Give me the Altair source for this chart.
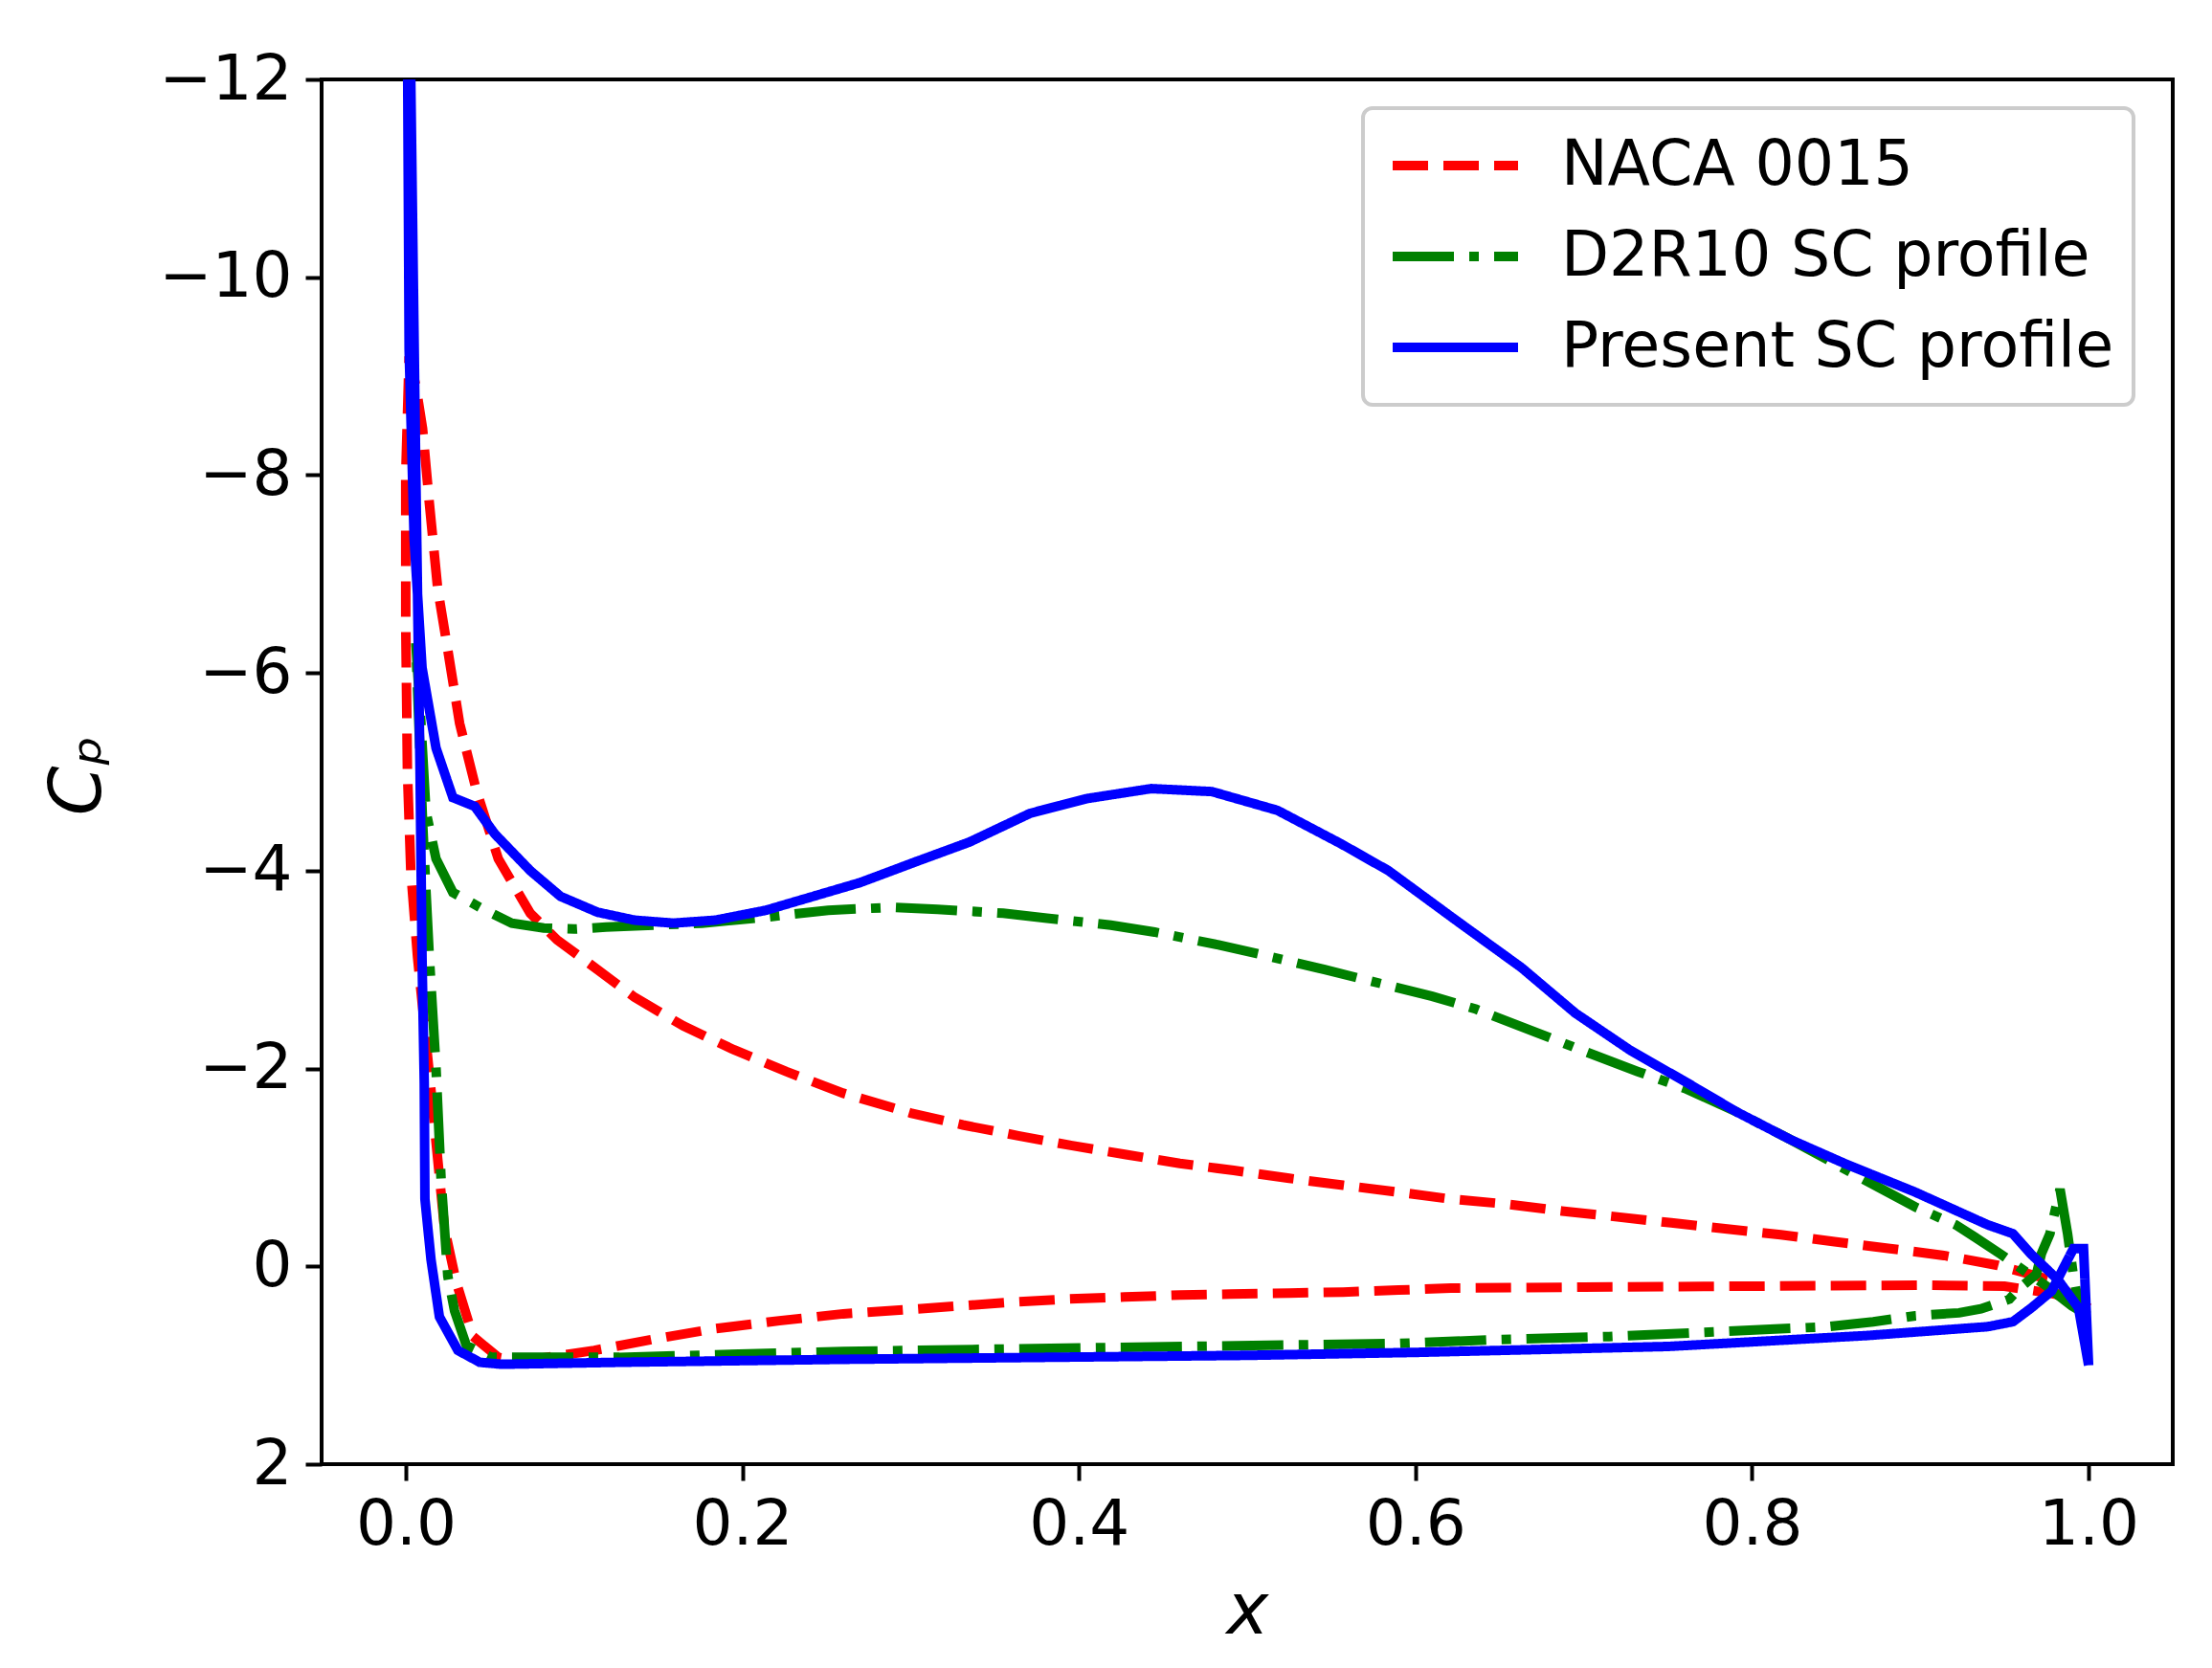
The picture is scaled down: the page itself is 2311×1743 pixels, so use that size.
import altair as alt
import pandas as pd

names = ["NACA 0015", "D2R10 SC profile", "Present SC profile"]
colors = ["#ff0000", "#008000", "#0000ff"]
dashes = [[37, 16], [64, 16, 10, 16], [1, 0]]

# NACA 0015 (leading edge -> trailing edge)
naca_up_x = [0.002, 0.006, 0.010, 0.014, 0.019, 0.025, 0.032, 0.042, 0.055, 0.074, 0.090, 0.106,
             0.136, 0.165, 0.195, 0.226, 0.260, 0.300, 0.331, 0.364, 0.396, 0.428, 0.460, 0.492,
             0.525, 0.557, 0.590, 0.621, 0.654, 0.687, 0.720, 0.752, 0.784, 0.817, 0.849, 0.882,
             0.914, 0.946, 0.978, 1.0]
naca_up_cp = [-9.2, -8.9, -8.47, -7.72, -6.85, -6.23, -5.49, -4.81, -4.12, -3.57, -3.3, -3.10,
              -2.72, -2.43, -2.19, -1.97, -1.75, -1.55, -1.43, -1.32, -1.22, -1.13, -1.04, -0.97,
              -0.89, -0.82, -0.75, -0.68, -0.63, -0.56, -0.50, -0.44, -0.38, -0.32, -0.25, -0.18,
              -0.11, -0.01, 0.14, 0.42]
naca_lo_x = [0.002, 0.0, 0.0, 0.001, 0.003, 0.007, 0.015, 0.023, 0.030, 0.040, 0.055, 0.068,
             0.112, 0.146, 0.184, 0.222, 0.260, 0.296, 0.329, 0.362, 0.394, 0.427, 0.46, 0.49,
             0.525, 0.557, 0.59, 0.621, 0.7, 0.8, 0.9, 0.95, 0.98, 1.0]
naca_lo_cp = [-9.2, -8.0, -6.5, -5.0, -4.0, -3.13, -1.78, -0.39, 0.16, 0.71, 0.92, 0.96,
              0.85, 0.74, 0.63, 0.55, 0.48, 0.44, 0.40, 0.36, 0.33, 0.31, 0.29, 0.28,
              0.27, 0.26, 0.24, 0.22, 0.21, 0.20, 0.19, 0.20, 0.28, 0.42]

# D2R10 SC profile
d2_up_x = [0.006, 0.009, 0.012, 0.018, 0.028, 0.044, 0.063, 0.082, 0.10, 0.119, 0.176, 0.214,
           0.251, 0.289, 0.316, 0.355, 0.381, 0.419, 0.445, 0.483, 0.509, 0.546, 0.572, 0.610,
           0.636, 0.671, 0.698, 0.732, 0.76, 0.791, 0.823, 0.863, 0.897, 0.921, 0.932, 0.948,
           0.963, 0.975, 0.99, 1.0]
d2_up_cp = [-6.3, -5.5, -4.6, -4.12, -3.78, -3.63, -3.47, -3.42, -3.41, -3.43, -3.47, -3.53,
            -3.60, -3.63, -3.61, -3.57, -3.52, -3.45, -3.38, -3.25, -3.15, -3.0, -2.89, -2.73,
            -2.60, -2.37, -2.19, -1.97, -1.80, -1.56, -1.28, -0.91, -0.60, -0.42, -0.30, -0.12,
            0.06, 0.2, 0.4, 0.5]
d2_lo_x = [0.006, 0.010, 0.012, 0.014, 0.018, 0.021, 0.025, 0.029, 0.036, 0.051, 0.127, 0.26,
           0.42, 0.59, 0.65, 0.715, 0.78, 0.845, 0.872, 0.897, 0.923, 0.936, 0.953, 0.959,
           0.969, 0.972, 0.977, 0.983, 0.9875, 0.991, 0.995, 1.0]
d2_lo_cp = [-6.3, -4.5, -3.8, -3.13, -2.0, -0.88, 0.1, 0.45, 0.80, 0.92, 0.92, 0.86,
            0.82, 0.78, 0.74, 0.71, 0.66, 0.61, 0.56, 0.50, 0.47, 0.43, 0.33, 0.22,
            0.08, -0.13, -0.33, -0.78, -0.33, 0.10, 0.45, 0.5]

# Present SC profile
sc_up_x = [0.0, 0.001, 0.002, 0.005, 0.0097, 0.018, 0.028, 0.041, 0.053, 0.074, 0.092, 0.114,
           0.136, 0.159, 0.184, 0.214, 0.248, 0.270, 0.303, 0.335, 0.371, 0.405, 0.443, 0.479,
           0.518, 0.556, 0.584, 0.624, 0.663, 0.695, 0.728, 0.760, 0.791, 0.823, 0.855, 0.897,
           0.940, 0.955, 0.966, 0.982, 0.994, 1.0]
sc_up_cp = [-14.0, -12.5, -9.27, -7.35, -6.05, -5.24, -4.74, -4.65, -4.37, -4.0, -3.74, -3.58,
            -3.50, -3.47, -3.50, -3.60, -3.77, -3.88, -4.09, -4.29, -4.58, -4.73, -4.83, -4.80,
            -4.61, -4.27, -4.0, -3.50, -3.02, -2.56, -2.18, -1.87, -1.56, -1.28, -1.04, -0.75,
            -0.42, -0.33, -0.12, 0.14, 0.42, 1.0]
sc_lo_x = [0.0, 0.003, 0.006, 0.0085, 0.0097, 0.011, 0.0114, 0.015, 0.020, 0.031, 0.044, 0.057,
           0.127, 0.26, 0.5, 0.6, 0.75, 0.868, 0.940, 0.955, 0.966, 0.978, 0.991, 0.997, 1.0]
sc_lo_cp = [-14.0, -12.0, -8.0, -5.0, -3.1, -1.85, -0.68, -0.07, 0.51, 0.85, 0.97, 0.99,
            0.97, 0.94, 0.90, 0.87, 0.81, 0.70, 0.61, 0.56, 0.42, 0.25, -0.18, -0.18, 1.0]

curves = [
    (names[0], naca_up_x, naca_up_cp, naca_lo_x, naca_lo_cp),
    (names[1], d2_up_x, d2_up_cp, d2_lo_x, d2_lo_cp),
    (names[2], sc_up_x, sc_up_cp, sc_lo_x, sc_lo_cp),
]

rows = []
for name, ux, ucp, lx, lcp in curves:
    # trailing edge -> leading edge along upper side, then back along lower side
    xs = ux[::-1] + lx
    cps = ucp[::-1] + lcp
    for i, (a, b) in enumerate(zip(xs, cps)):
        rows.append({"x": a, "cp": b, "series": name, "idx": i})
df = pd.DataFrame(rows)

leg = alt.Legend(
    orient="none", legendX=1088, legendY=30, title=None,
    symbolType="stroke", symbolSize=17161, symbolStrokeWidth=10, symbolOffset=6,
    labelFontSize=65, labelFont="DejaVu Sans", labelColor="black", labelLimit=1000,
    labelOffset=40, clipHeight=80, rowPadding=15, padding=20,
    fillColor="white", strokeColor="#cccccc", cornerRadius=10,
)

chart = alt.Chart(df).mark_line(clip=True, strokeWidth=10).encode(
    alt.X("x:Q").scale(domain=[-0.05, 1.05], nice=False, zero=False)
        .axis(values=[0, 0.2, 0.4, 0.6, 0.8, 1.0], format=".1f",
              titleY=176, titleBaseline="alphabetic").title("x"),
    alt.Y("cp:Q").scale(domain=[-12, 2], reverse=True, nice=False, zero=False)
        .axis(values=list(range(-12, 3, 2)), format="d",
              titleX=-232, titleY=727, titleAngle=-90, titleAlign="center",
              titleBaseline="alphabetic").title("Cₚ"),
    alt.Color("series:N").scale(domain=names, range=colors).legend(leg),
    alt.StrokeDash("series:N").scale(domain=names, range=dashes).legend(leg),
    order="idx:Q",
).properties(
    width=1934, height=1447,
    autosize="none",
    padding={"left": 328, "top": 75, "right": 33, "bottom": 205},
    background="white",
).configure_view(
    stroke="black", strokeWidth=4
).configure_axis(
    domain=False, grid=False,
    tickColor="black", tickWidth=4, tickSize=17,
    labelFont="DejaVu Sans", labelFontSize=66, labelColor="black", labelPadding=14,
    titleFont="DejaVu Sans", titleFontSize=74, titleFontWeight="normal",
    titleFontStyle="italic", titleColor="black",
).configure_legend(
    strokeWidth=4
)

chart.save("out.html", embed_options={"renderer": "svg", "actions": False})
